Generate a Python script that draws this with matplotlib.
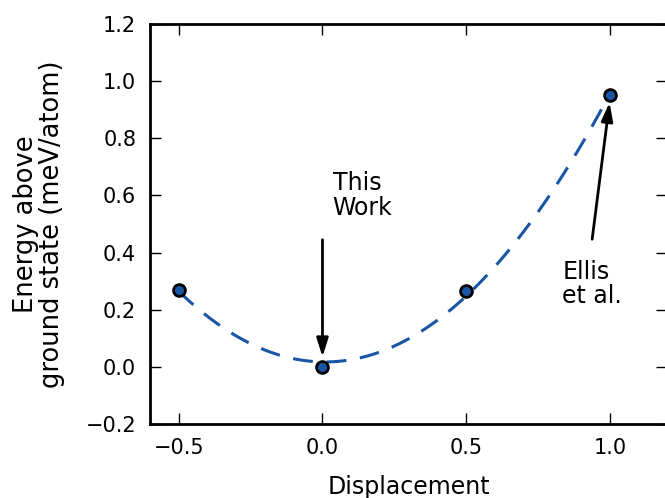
import numpy as np
import matplotlib
matplotlib.use("Agg")
import matplotlib.pyplot as plt

# displacement vs energy above ground state
displacement = [-0.5, 0.0, 0.5, 1.0]
energy = [0.27, 0.0, 0.265, 0.95]

blue = '#1a55a5'

fig = plt.figure(figsize=(6.65, 4.98), dpi=100)
ax = fig.add_axes([0.2256, 0.1486, 0.778, 0.8032])

# quadratic fit through the points
coef = np.polyfit(displacement, energy, 2)
xs = np.linspace(-0.5, 1.0, 200)
ax.plot(xs, np.polyval(coef, xs), '--', color=blue, lw=2.2, dashes=(6.5, 4.5))
ax.plot(displacement, energy, 'o', color=blue, markersize=8.5,
        markeredgecolor='black', markeredgewidth=2, clip_on=False, zorder=3)

ax.annotate('', xy=(0.0, 0.025), xytext=(0.0, 0.455),
            arrowprops=dict(arrowstyle='-|>,head_width=0.25,head_length=0.8',
                            color='black', lw=2, mutation_scale=14))
ax.text(0.035, 0.6, 'This\nWork', fontsize=17, ha='left', va='center',
        linespacing=1.05)

ax.annotate('', xy=(1.0, 0.935), xytext=(0.937, 0.437),
            arrowprops=dict(arrowstyle='-|>,head_width=0.25,head_length=0.8',
                            color='black', lw=2, mutation_scale=14))
ax.text(0.835, 0.29, 'Ellis\net al.', fontsize=17, ha='left', va='center',
        linespacing=1.05)

ax.set_xlim(-0.6, 1.2)
ax.set_ylim(-0.2, 1.2)
ax.set_xticks([-0.5, 0.0, 0.5, 1.0])
ax.set_yticks([-0.2, 0.0, 0.2, 0.4, 0.6, 0.8, 1.0, 1.2])
ax.tick_params(direction='in', top=True, right=True, length=8, width=1,
               labelsize=15, pad=10)
for s in ax.spines.values():
    s.set_linewidth(2)

ax.set_xlabel('Displacement', fontsize=17, labelpad=12)
ax.set_ylabel('Energy above\nground state (meV/atom)', fontsize=18.5, labelpad=15,
              linespacing=1.0)

fig.savefig('out.png', dpi=100)
